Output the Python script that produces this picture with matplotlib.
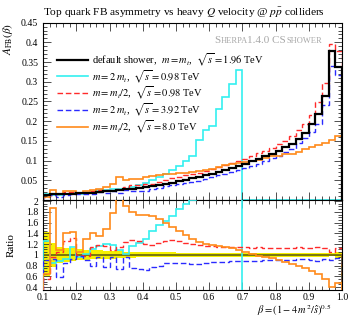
import matplotlib.pyplot as plt
import numpy as np

plt.rcParams['font.family'] = ['Liberation Serif', 'DejaVu Serif']
plt.rcParams['mathtext.fontset'] = 'stix'

# bin edges in beta
edges = np.round(np.arange(0.10, 1.0001, 0.02), 2)

# default shower, A_FB per bin
a_default = [0.013, 0.014, 0.015, 0.016, 0.016, 0.017, 0.018, 0.019, 0.021, 0.022,
             0.023, 0.025, 0.027, 0.029, 0.031, 0.033, 0.035, 0.038, 0.041, 0.044,
             0.047, 0.051, 0.055, 0.059, 0.063, 0.067, 0.072, 0.077, 0.082, 0.087,
             0.092, 0.098, 0.104, 0.111, 0.118, 0.125, 0.134, 0.143, 0.155, 0.170,
             0.192, 0.218, 0.263, 0.378, 0.337]

# ratios to the default shower
r_cyan = [1.25, 0.85, 0.88, 0.93, 1.15, 0.95, 1.02, 1.10, 1.17, 1.20,
          1.18, 1.08, 1.02, 1.17, 1.22, 1.30, 1.45, 1.55, 1.62, 1.72,
          1.85, 1.95, 2.02, 2.60, 2.80, 2.80, 3.20, 3.40, 3.60, 3.80,
          0, 0, 0, 0, 0, 0, 0, 0, 0, 0, 0, 0, 0, 0, 0]
r_red = [0.55, 0.95, 1.05, 1.25, 1.32, 1.00, 0.97, 1.15, 1.18, 1.17,
         1.08, 1.15, 1.24, 1.27, 1.25, 1.20, 1.19, 1.22, 1.26, 1.27,
         1.25, 1.22, 1.20, 1.18, 1.17, 1.16, 1.15, 1.15, 1.14, 1.15,
         1.14, 1.13, 1.14, 1.13, 1.12, 1.13, 1.12, 1.13, 1.14, 1.13,
         1.12, 1.14, 1.13, 1.05, 1.12]
r_blue = [0.90, 0.93, 0.58, 0.85, 0.92, 0.97, 0.90, 0.80, 0.95, 0.78,
          0.96, 0.74, 0.95, 0.76, 0.74, 0.72, 0.78, 0.80, 0.84, 0.85,
          0.85, 0.84, 0.82, 0.83, 0.85, 0.86, 0.87, 0.87, 0.88, 0.88,
          0.88, 0.89, 0.89, 0.90, 0.90, 0.90, 0.91, 0.91, 0.93, 0.92,
          0.90, 0.89, 0.92, 0.90, 0.94]
r_orange = [0.65, 1.88, 1.08, 1.40, 1.43, 1.05, 1.30, 1.40, 1.35, 1.48,
            1.78, 2.30, 1.90, 1.80, 1.75, 1.74, 1.72, 1.66, 1.60, 1.52,
            1.45, 1.36, 1.30, 1.24, 1.20, 1.18, 1.16, 1.15, 1.12, 1.08,
            1.05, 1.01, 0.98, 0.95, 0.94, 0.90, 0.87, 0.82, 0.79, 0.76,
            0.70, 0.64, 0.55, 0.40, 0.48]
# relative stat. uncertainty of the default shower
err_default = [0.42, 0.22, 0.15, 0.13, 0.12, 0.10, 0.09, 0.085, 0.08, 0.075,
               0.07, 0.065, 0.06, 0.055, 0.05, 0.05, 0.048, 0.046, 0.045, 0.044,
               0.042, 0.042, 0.042, 0.042, 0.042, 0.04, 0.04, 0.04, 0.04, 0.04,
               0.038, 0.038, 0.038, 0.038, 0.038, 0.036, 0.036, 0.036, 0.036, 0.036,
               0.035, 0.035, 0.035, 0.03, 0.06]

labels = [r'default shower,  $m = m_t$,  $\sqrt{s} = 1.96$ TeV',
          r'$m = 2\,m_t$,  $\sqrt{s} = 0.98$ TeV',
          r'$m = m_t/2$,  $\sqrt{s} = 0.98$ TeV',
          r'$m = 2\,m_t$,  $\sqrt{s} = 3.92$ TeV',
          r'$m = m_t/2$,  $\sqrt{s} = 8.0$ TeV']

a_def = np.array(a_default)
ratios = [np.array(r_cyan), np.array(r_red), np.array(r_blue), np.array(r_orange)]
styles = [dict(color='#33f0f0', lw=1.2, ls='-'),
          dict(color='#ff2a2a', lw=1.0, ls=(0, (4, 2))),
          dict(color='#2a2aff', lw=1.0, ls=(0, (4, 2))),
          dict(color='#ff8a1a', lw=1.2, ls='-')]

fig = plt.figure(figsize=(3.53, 3.19), dpi=100)
ax = fig.add_axes([0.122, 0.373, 0.847, 0.556])
rax = fig.add_axes([0.122, 0.091, 0.847, 0.282], sharex=ax)

# main panel
ax.stairs(a_def, edges, color='black', lw=1.6, label=labels[0], zorder=5)
for r, st, lab in zip(ratios, styles, labels[1:]):
    ax.stairs(a_def * r, edges, label=lab, **st)

ax.set_xlim(0.1, 1.0)
ax.set_ylim(0, 0.45)
ax.set_yticks([0.05, 0.1, 0.15, 0.2, 0.25, 0.3, 0.35, 0.4, 0.45])
ax.set_yticklabels(['0.05', '0.1', '0.15', '0.2', '0.25', '0.3', '0.35', '0.4', '0.45'])
ax.set_yticks(np.arange(0.0, 0.451, 0.01), minor=True)
ax.tick_params(labelbottom=False)
ax.set_ylabel(r'$A_{\mathrm{FB}}(\beta)$', loc='top', fontsize=8, labelpad=4)
ax.set_title(r'Top quark FB asymmetry vs heavy $Q$ velocity @ $p\bar{p}$ colliders',
             loc='left', fontsize=8.2, pad=5)

leg = ax.legend(loc='upper left', bbox_to_anchor=(0.045, 0.84), frameon=False,
                fontsize=7.5, handlelength=3.0, handletextpad=0.45,
                labelspacing=0.0, borderpad=0, borderaxespad=0)

# "Sherpa1.4.0 CSshower" in small caps
grey = '#a8a8a8'
t = ax.text(0.572, 0.885, 'S', transform=ax.transAxes, fontsize=8, color=grey,
            va='baseline')
for s, fs in [('HERPA', 6.0), ('1.4.0 CS', 8), ('SHOWER', 6.0)]:
    t = ax.annotate(s, xy=(1, 0), xycoords=t, fontsize=fs, color=grey, va='bottom')

# ratio panel
rax.stairs(1 + np.array(err_default), edges, baseline=1 - np.array(err_default),
           fill=True, color='#f5f000', lw=0, zorder=1)
rax.stairs(a_def / a_def, edges, color='#6e6e10', lw=1.3, zorder=2)
for r, st in zip(ratios, styles):
    rax.stairs(r, edges, zorder=3, **st)

rax.set_ylim(0.345, 2.02)
rax.set_yticks([0.4, 0.6, 0.8, 1.0, 1.2, 1.4, 1.6, 1.8, 2.0])
rax.set_yticklabels(['0.4', '0.6', '0.8', '1', '1.2', '1.4', '1.6', '1.8', '2'])
rax.set_yticks(np.arange(0.35, 2.01, 0.05), minor=True)
rax.set_xticks(np.arange(0.1, 1.01, 0.1))
rax.set_xticklabels(['0.1', '0.2', '0.3', '0.4', '0.5', '0.6', '0.7', '0.8', '0.9', '1.0'])
rax.set_xticks(np.arange(0.1, 1.001, 0.02), minor=True)
rax.set_ylabel('Ratio', fontsize=8, labelpad=7)
rax.set_xlabel(r'$\beta = (1 - 4\,m^2/\hat{s})^{0.5}$', loc='right', fontsize=7.5)
rax.xaxis.set_label_coords(0.965, -0.14)

for a in (ax, rax):
    a.tick_params(which='both', direction='in', top=True, right=True,
                  labelsize=7, width=0.6, colors='#333333', labelcolor='black')
    a.tick_params(which='major', length=6)
    a.tick_params(which='minor', length=3)
    for sp in a.spines.values():
        sp.set_linewidth(0.8)
rax.tick_params(axis='x', pad=2.0)

fig.savefig('out.png', dpi=100)
